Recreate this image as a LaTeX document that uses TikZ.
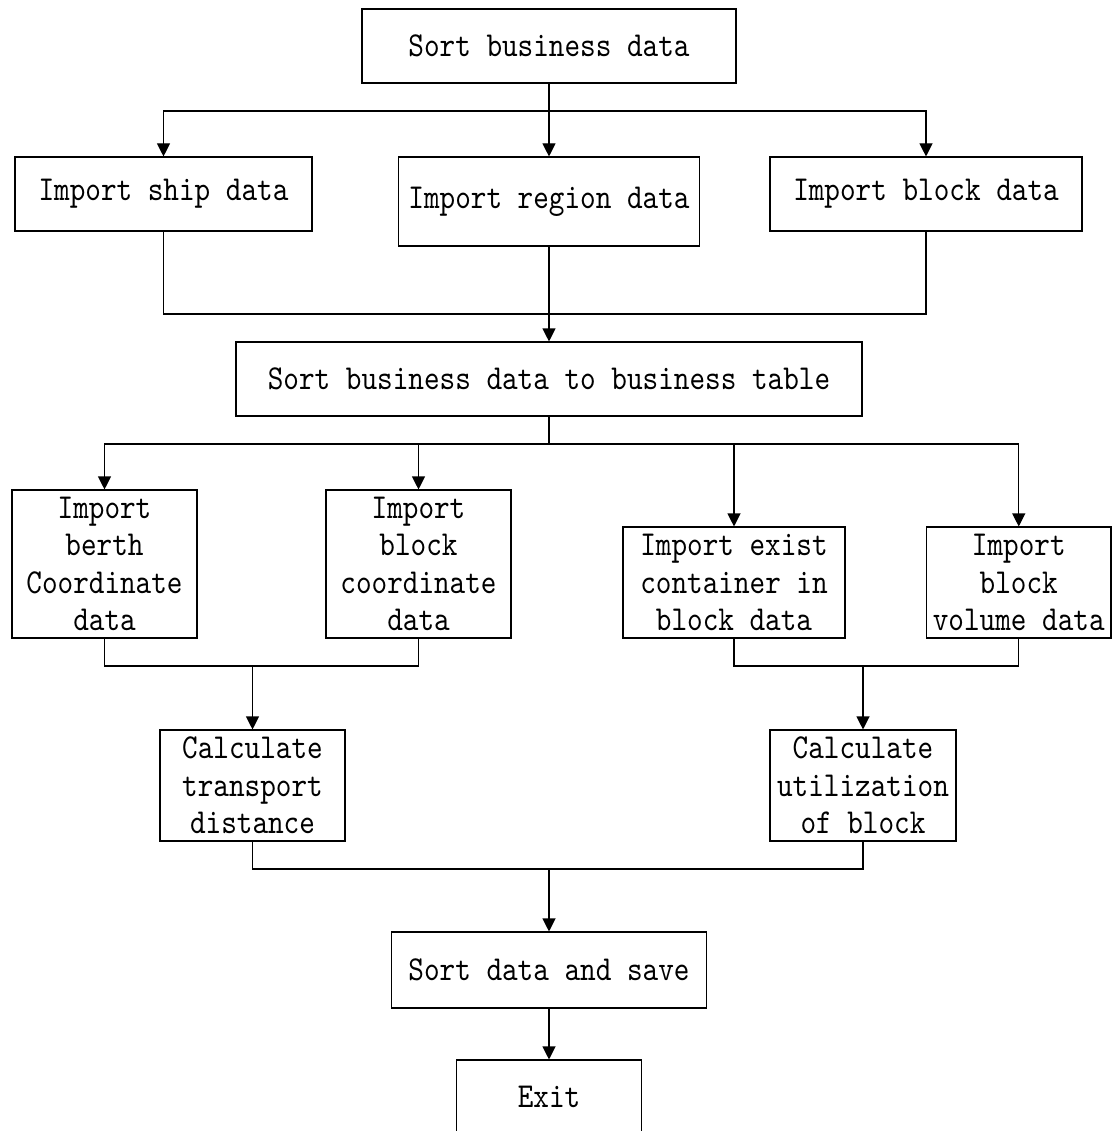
\documentclass[tikz,border=0pt]{standalone}
\usepackage{fontspec}
\newfontfamily\boxfont{lmmono10-regular.otf}[FakeStretch=0.85]
\usetikzlibrary{arrows.meta}
\begin{document}
\begin{tikzpicture}[x=1pt,y=-1pt,
  box/.style={draw, line width=1.1pt, rectangle, inner sep=0pt, align=center,
    font=\fontsize{35}{37.5}\selectfont\boxfont},
  ln/.style={line width=1.1pt},
  arr/.style={line width=1.1pt, -{Triangle[length=13pt,width=13pt]}}]
\useasboundingbox (0,0) rectangle (1115,1131);
\clip (0,0) rectangle (1115,1131);
% nodes
\node[box, minimum width=374pt, minimum height=74pt] (sbd) at (549,46) {Sort business data};
\node[box, minimum width=297pt, minimum height=74pt] (ship) at (163.5,194) {Import ship data};
\node[box, minimum width=301pt, minimum height=89pt] (region) at (549,201.5) {Import region data};
\node[box, minimum width=312pt, minimum height=74pt] (blockd) at (926,194) {Import block data};
\node[box, minimum width=626pt, minimum height=74pt] (table) at (549,379) {Sort business data to business table};
\node[box, minimum width=185pt, minimum height=148pt] (berth) at (104.5,564) {Import\\berth\\Coordinate\\data};
\node[box, minimum width=185pt, minimum height=148pt] (bcoord) at (418.5,564) {Import\\block\\coordinate\\data};
\node[box, minimum width=222pt, minimum height=111pt] (exist) at (734,582.5) {Import exist\\container in\\block data};
\node[box, minimum width=184.5pt, minimum height=111pt] (volume) at (1018.75,582.5) {Import\\block\\volume data};
\node[box, minimum width=185pt, minimum height=111pt] (dist) at (252.5,785.5) {Calculate\\transport\\distance};
\node[box, minimum width=186pt, minimum height=111pt] (util) at (863,785.5) {Calculate\\utilization\\of block};
\node[box, minimum width=315pt, minimum height=76pt] (save) at (549,970) {Sort data and save};
\node[box, minimum width=185pt, minimum height=74pt] (exit) at (549,1097) {Exit};
% junctions
\coordinate (j1) at (549,111);
\coordinate (j2) at (549,314);
\coordinate (j3) at (549,444);
\coordinate (j4) at (252.5,666);
\coordinate (j5) at (863,666);
\coordinate (j6) at (549,869);
% connectors
\draw[ln] (sbd.south) -- (j1);
\draw[arr] (j1) -| (ship.north);
\draw[arr] (j1) -- (region.north);
\draw[arr] (j1) -| (blockd.north);
\draw[ln] (ship.south) |- (j2);
\draw[ln] (blockd.south) |- (j2);
\draw[arr] (region.south) -- (table.north);
\draw[ln] (table.south) -- (j3);
\draw[arr] (j3) -| (berth.north);
\draw[arr] (j3) -| (bcoord.north);
\draw[arr] (j3) -| (exist.north);
\draw[arr] (j3) -| (volume.north);
\draw[ln] (berth.south) |- (j4);
\draw[ln] (bcoord.south) |- (j4);
\draw[arr] (j4) -- (dist.north);
\draw[ln] (exist.south) |- (j5);
\draw[ln] (volume.south) |- (j5);
\draw[arr] (j5) -- (util.north);
\draw[ln] (dist.south) |- (j6);
\draw[ln] (util.south) |- (j6);
\draw[arr] (j6) -- (save.north);
\draw[arr] (save.south) -- (exit.north);
\end{tikzpicture}
\end{document}
